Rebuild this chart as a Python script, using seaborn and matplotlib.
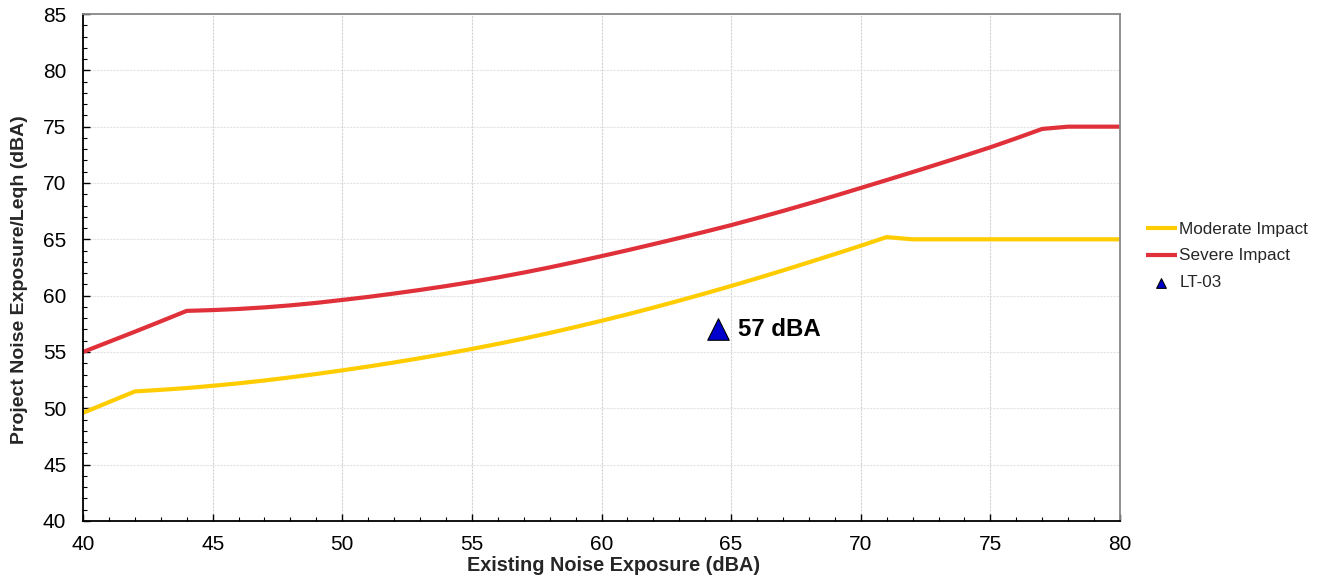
import numpy as np
import pandas as pd
import matplotlib
matplotlib.use("Agg")
import matplotlib.pyplot as plt
from matplotlib.ticker import MultipleLocator
import seaborn as sns

# ---- data ----
existing = list(range(40, 81))
moderate = [49.6, 50.55, 51.5, 51.64, 51.8, 52.0, 52.22, 52.47, 52.75, 53.05,
            53.37, 53.71, 54.07, 54.45, 54.85, 55.27, 55.72, 56.19, 56.69, 57.22,
            57.77, 58.34, 58.94, 59.56, 60.2, 60.86, 61.54, 62.24, 62.96, 63.69,
            64.43, 65.2, 65.0, 65.0, 65.0, 65.0, 65.0, 65.0, 65.0, 65.0, 65.0]
severe = [55.0, 55.9, 56.8, 57.72, 58.65, 58.72, 58.82, 58.96, 59.14, 59.36,
          59.62, 59.89, 60.19, 60.51, 60.85, 61.22, 61.62, 62.05, 62.51, 63.0,
          63.51, 64.03, 64.57, 65.12, 65.68, 66.26, 66.88, 67.52, 68.18, 68.86,
          69.56, 70.26, 70.97, 71.69, 72.42, 73.17, 73.97, 74.8, 75.0, 75.0, 75.0]
site_names = ["LT-03"]
site_existing = [64.5]
site_project = [57]
site_labels = ["57 dBA"]

df_mod = pd.DataFrame({"x": existing, "y": moderate})
df_sev = pd.DataFrame({"x": existing, "y": severe})
df_site = pd.DataFrame({"x": site_existing, "y": site_project, "name": site_names})

sns.set_theme(style="white")
plt.rcParams["font.family"] = ["Liberation Sans", "DejaVu Sans"]

fig = plt.figure(figsize=(13.22, 5.8), dpi=100)
ax = fig.add_axes([83/1322, 59/580, 1037/1322, 507/580])

sns.lineplot(data=df_mod, x="x", y="y", ax=ax, color="#FFCC00", linewidth=3.0,
             label="Moderate Impact", solid_capstyle="butt")
sns.lineplot(data=df_sev, x="x", y="y", ax=ax, color="#E0303A", linewidth=3.0,
             label="Severe Impact", solid_capstyle="butt")
sns.scatterplot(data=df_site, x="x", y="y", ax=ax, marker="^", s=240,
                color="#0000CC", edgecolor="black", linewidth=0.8,
                label=site_names[0], zorder=5)

for xv, yv, lab in zip(site_existing, site_project, site_labels):
    ax.annotate(lab, xy=(xv, yv), xytext=(14, 0), textcoords="offset points",
                ha="left", va="center", fontsize=17.3, fontweight="bold",
                color="black")

ax.set_xlim(40, 80)
ax.set_ylim(40, 85)
ax.xaxis.set_major_locator(MultipleLocator(5))
ax.xaxis.set_minor_locator(MultipleLocator(1))
ax.yaxis.set_major_locator(MultipleLocator(5))
ax.yaxis.set_minor_locator(MultipleLocator(1))

ax.grid(True, which="major", axis="y", color="#e2e2e2", linestyle=(0, (2, 1)), linewidth=0.8)
ax.grid(True, which="major", axis="x", color="#d2d2d2", linestyle=(0, (2, 1)), linewidth=0.8)

ax.tick_params(axis="both", which="both", direction="in", colors="black",
               labelsize=15, bottom=True, left=True, top=False, right=False)
ax.tick_params(axis="both", which="major", length=5, width=1)
ax.tick_params(axis="both", which="minor", length=3, width=0.8)
ax.tick_params(axis="x", which="major", pad=10)
ax.tick_params(axis="y", which="major", pad=12)

for side in ["left", "bottom"]:
    ax.spines[side].set_color("black")
    ax.spines[side].set_linewidth(1.3)
for side in ["top", "right"]:
    ax.spines[side].set_color("#888888")
    ax.spines[side].set_linewidth(1.3)

ax.set_xlabel("Existing Noise Exposure (dBA)", fontsize=14.3, fontweight="bold")
ax.set_ylabel("Project Noise Exposure/Leqh (dBA)", fontsize=14, fontweight="bold")
ax.xaxis.set_label_coords(0.512, -0.087)
ax.xaxis.label.set_verticalalignment("center")
ax.yaxis.set_label_coords(-0.061, 0.477)
ax.yaxis.label.set_verticalalignment("center")

handles, labels = ax.get_legend_handles_labels()
ax.legend(handles, labels, loc="center left",
          bbox_to_anchor=(1146/1322, 1 - 256/580), bbox_transform=fig.transFigure,
          frameon=False, fontsize=12.3, handlelength=1.8, handletextpad=0.15,
          labelspacing=0.7, borderpad=0, borderaxespad=0, markerscale=0.45)

fig.savefig("out.png", dpi=100)
